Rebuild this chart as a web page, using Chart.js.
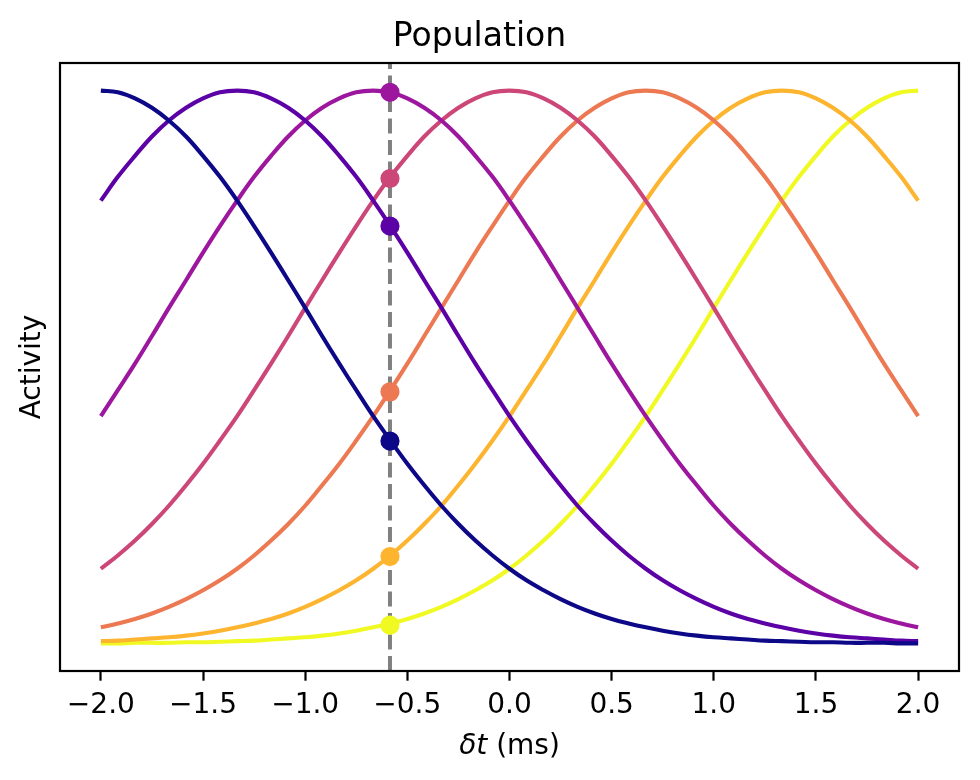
<!DOCTYPE html>
<html>
<head>
<meta charset="utf-8">
<title>Population</title>
<script src="https://cdn.jsdelivr.net/npm/chart.js@4.4.1/dist/chart.umd.min.js"></script>
<style>
    html, body { margin: 0; padding: 0; background: #fff; }
    #wrap { width: 980px; height: 780px; }
</style>
</head>
<body>
<div id="wrap"><canvas id="popChart" width="980" height="780"></canvas></div>
<script>
// time axis samples (ms)
const tValues = [-2.000, -1.917, -1.833, -1.750, -1.667, -1.583, -1.500, -1.417, -1.333, -1.250, -1.167, -1.083,
    -1.000, -0.917, -0.833, -0.750, -0.667, -0.583, -0.500, -0.417, -0.333, -0.250, -0.167, -0.083,
    0.000, 0.083, 0.167, 0.250, 0.333, 0.417, 0.500, 0.583, 0.667, 0.750, 0.833, 0.917,
    1.000, 1.083, 1.167, 1.250, 1.333, 1.417, 1.500, 1.583, 1.667, 1.750, 1.833, 1.917, 2.000];

// activity of each neuron
const neuron0 = [1.000, 0.997, 0.986, 0.969, 0.946, 0.917, 0.882, 0.844, 0.801, 0.755, 0.707, 0.657,
    0.607, 0.556, 0.506, 0.458, 0.411, 0.367, 0.325, 0.286, 0.249, 0.216, 0.186, 0.159,
    0.135, 0.114, 0.096, 0.080, 0.066, 0.054, 0.044, 0.036, 0.029, 0.023, 0.018, 0.014,
    0.011, 0.009, 0.007, 0.005, 0.004, 0.003, 0.002, 0.002, 0.001, 0.001, 0.001, 0.000, 0.000];
const neuron1 = [0.801, 0.844, 0.882, 0.917, 0.946, 0.969, 0.986, 0.997, 1.000, 0.997, 0.986, 0.969,
    0.946, 0.917, 0.882, 0.844, 0.801, 0.755, 0.707, 0.657, 0.607, 0.556, 0.506, 0.458,
    0.411, 0.367, 0.325, 0.286, 0.249, 0.216, 0.186, 0.159, 0.135, 0.114, 0.096, 0.080,
    0.066, 0.054, 0.044, 0.036, 0.029, 0.023, 0.018, 0.014, 0.011, 0.009, 0.007, 0.005, 0.004];
const neuron2 = [0.411, 0.458, 0.506, 0.556, 0.607, 0.657, 0.707, 0.755, 0.801, 0.844, 0.882, 0.917,
    0.946, 0.969, 0.986, 0.997, 1.000, 0.997, 0.986, 0.969, 0.946, 0.917, 0.882, 0.844,
    0.801, 0.755, 0.707, 0.657, 0.607, 0.556, 0.506, 0.458, 0.411, 0.367, 0.325, 0.286,
    0.249, 0.216, 0.186, 0.159, 0.135, 0.114, 0.096, 0.080, 0.066, 0.054, 0.044, 0.036, 0.029];
const neuron3 = [0.135, 0.159, 0.186, 0.216, 0.249, 0.286, 0.325, 0.367, 0.411, 0.458, 0.506, 0.556,
    0.607, 0.657, 0.707, 0.755, 0.801, 0.844, 0.882, 0.917, 0.946, 0.969, 0.986, 0.997,
    1.000, 0.997, 0.986, 0.969, 0.946, 0.917, 0.882, 0.844, 0.801, 0.755, 0.707, 0.657,
    0.607, 0.556, 0.506, 0.458, 0.411, 0.367, 0.325, 0.286, 0.249, 0.216, 0.186, 0.159, 0.135];
const neuron4 = [0.029, 0.036, 0.044, 0.054, 0.066, 0.080, 0.096, 0.114, 0.135, 0.159, 0.186, 0.216,
    0.249, 0.286, 0.325, 0.367, 0.411, 0.458, 0.506, 0.556, 0.607, 0.657, 0.707, 0.755,
    0.801, 0.844, 0.882, 0.917, 0.946, 0.969, 0.986, 0.997, 1.000, 0.997, 0.986, 0.969,
    0.946, 0.917, 0.882, 0.844, 0.801, 0.755, 0.707, 0.657, 0.607, 0.556, 0.506, 0.458, 0.411];
const neuron5 = [0.004, 0.005, 0.007, 0.009, 0.011, 0.014, 0.018, 0.023, 0.029, 0.036, 0.044, 0.054,
    0.066, 0.080, 0.096, 0.114, 0.135, 0.159, 0.186, 0.216, 0.249, 0.286, 0.325, 0.367,
    0.411, 0.458, 0.506, 0.556, 0.607, 0.657, 0.707, 0.755, 0.801, 0.844, 0.882, 0.917,
    0.946, 0.969, 0.986, 0.997, 1.000, 0.997, 0.986, 0.969, 0.946, 0.917, 0.882, 0.844, 0.801];
const neuron6 = [0.000, 0.000, 0.001, 0.001, 0.001, 0.002, 0.002, 0.003, 0.004, 0.005, 0.007, 0.009,
    0.011, 0.014, 0.018, 0.023, 0.029, 0.036, 0.044, 0.054, 0.066, 0.080, 0.096, 0.114,
    0.135, 0.159, 0.186, 0.216, 0.249, 0.286, 0.325, 0.367, 0.411, 0.458, 0.506, 0.556,
    0.607, 0.657, 0.707, 0.755, 0.801, 0.844, 0.882, 0.917, 0.946, 0.969, 0.986, 0.997, 1.000];

// plasma colours, one per neuron
const neuronColors = ['#0d0887', '#5c01a6', '#9c179e', '#cc4778', '#ed7953', '#fdb42f', '#f0f921'];

// dashed marker and the activity of each neuron where it crosses
const markerT = -0.585;
const markerValues = [0.366, 0.755, 0.997, 0.841, 0.455, 0.157, 0.033];

const xTickValues = [-2.0, -1.5, -1.0, -0.5, 0.0, 0.5, 1.0, 1.5, 2.0];
const xRange = [-2.2, 2.2];
const yRange = [-0.05, 1.05];

const FONT = '"DejaVu Sans", "Liberation Sans", sans-serif';

document.addEventListener('DOMContentLoaded', function() {
    const neurons = [neuron0, neuron1, neuron2, neuron3, neuron4, neuron5, neuron6];

    // axes frame + mixed-style x label
    const framePlugin = {
        id: 'frame',
        afterDraw(chart) {
            const { ctx, chartArea: a } = chart;
            ctx.save();
            ctx.strokeStyle = '#000';
            ctx.lineWidth = 2.2;
            ctx.strokeRect(a.left, a.top, a.right - a.left, a.bottom - a.top);

            const part1 = '\u03b4t';
            const part2 = ' (ms)';
            ctx.fillStyle = '#000';
            ctx.textBaseline = 'alphabetic';
            ctx.font = 'italic 28px ' + FONT;
            const w1 = ctx.measureText(part1).width;
            ctx.font = '28px ' + FONT;
            const w2 = ctx.measureText(part2).width;
            const x0 = (a.left + a.right) / 2 - (w1 + w2) / 2;
            const y0 = chart.height - 26;
            ctx.font = 'italic 28px ' + FONT;
            ctx.fillText(part1, x0, y0);
            ctx.font = '28px ' + FONT;
            ctx.fillText(part2, x0 + w1, y0);
            ctx.restore();
        }
    };

    const datasets = [];

    // crossing dots (on top)
    datasets.push({
        data: markerValues.map(v => ({ x: markerT, y: v })),
        showLine: false,
        pointRadius: 8.3,
        pointBorderWidth: 2.6,
        pointBackgroundColor: neuronColors,
        pointBorderColor: neuronColors
    });

    // dashed vertical marker
    datasets.push({
        data: [{ x: markerT, y: yRange[0] }, { x: markerT, y: yRange[1] }],
        borderColor: '#808080',
        borderWidth: 4,
        borderDash: [15, 6.5],
        pointRadius: 0
    });

    neurons.forEach((vals, i) => {
        datasets.push({
            data: tValues.map((t, j) => ({ x: t, y: vals[j] })),
            borderColor: neuronColors[i],
            borderWidth: 4.1,
            pointRadius: 0,
            tension: 0.4,
            fill: false
        });
    });

    new Chart(document.getElementById('popChart').getContext('2d'), {
        type: 'line',
        data: { datasets: datasets },
        options: {
            responsive: false,
            animation: false,
            events: [],
            layout: { padding: { top: 0, right: 21, bottom: 0, left: 0 } },
            plugins: {
                legend: { display: false },
                tooltip: { enabled: false },
                title: {
                    display: true,
                    text: 'Population',
                    color: '#000',
                    font: { family: FONT, size: 33, weight: 'normal', lineHeight: 1.2 },
                    padding: { top: 17.5, bottom: 5.9 }
                }
            },
            scales: {
                x: {
                    type: 'linear',
                    min: xRange[0],
                    max: xRange[1],
                    afterBuildTicks: scale => {
                        scale.ticks = xTickValues.map(v => ({ value: v }));
                    },
                    afterFit: scale => { scale.height = 109; },
                    border: { display: false },
                    grid: {
                        display: true,
                        drawOnChartArea: false,
                        drawTicks: true,
                        tickLength: 9.7,
                        tickWidth: 2.2,
                        tickColor: '#000'
                    },
                    ticks: {
                        color: '#000',
                        padding: 8.2,
                        maxRotation: 0,
                        font: { family: FONT, size: 28, lineHeight: 1.2 },
                        callback: value => value.toFixed(1).replace('-', '\u2212')
                    }
                },
                y: {
                    min: yRange[0],
                    max: yRange[1],
                    afterFit: scale => { scale.width = 60; },
                    border: { display: false },
                    grid: { display: false },
                    ticks: { display: false },
                    title: {
                        display: true,
                        text: 'Activity',
                        color: '#000',
                        font: { family: FONT, size: 28, lineHeight: 1.2 },
                        padding: { top: 16, bottom: 0 }
                    }
                }
            }
        },
        plugins: [framePlugin]
    });
});
</script>
</body>
</html>
